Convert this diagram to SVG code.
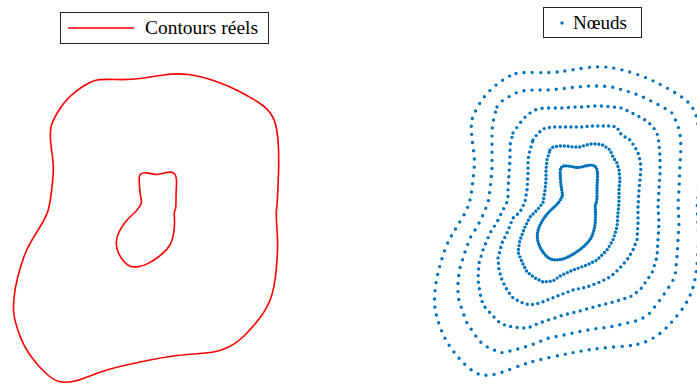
<svg xmlns="http://www.w3.org/2000/svg" xmlns:xlink="http://www.w3.org/1999/xlink" width="697" height="385" viewBox="0 0 697 385">
<style>
.legend{fill:#fff;stroke:#262626;stroke-width:1}
.lbl{font-family:"Liberation Serif","DejaVu Serif",serif;font-size:18px;fill:#000}
.red{fill:none;stroke:#ff0000;stroke-width:1.6;stroke-linejoin:round}
.dot{fill:none;stroke:#0072bd;stroke-width:3.4;stroke-linecap:round;stroke-linejoin:round}
</style>
<defs>
<path id="outer" d="M95,80.5 Q100,79 115,79.5 Q130,80 140,78.5 Q150,77 163.5,75 Q177,73 188.5,74.5 Q200,76 213.5,80.5 Q227,85 238.5,91 Q250,97 258.5,102.5 Q267,108 271,114 Q275,120 276.5,128.5 Q278,137 278.5,148.5 Q279,160 278.5,173.5 Q278,187 277.5,197 Q277,207 276.5,209.5 Q276,212 276.5,221 Q277,230 277.5,239 Q278,248 276.5,266.5 Q275,285 271.5,296 Q268,307 260.5,317 Q253,327 245,335 Q237,343 228.5,347 Q220,351 213.5,352 Q207,353 193.5,354 Q180,355 170,356.5 Q160,358 150,360 Q140,362 128.5,364.5 Q117,367 108.5,369.5 Q100,372 90,376 Q80,380 72.5,381.5 Q65,383 59,381.5 Q53,380 45,372.5 Q37,365 30,355 Q23,345 19,333.5 Q15,322 14,315 Q13,308 14,298 Q15,288 17.5,278 Q20,268 23.5,258 Q27,248 32,240 Q37,232 42,223.5 Q47,215 48.5,209 Q50,203 51,195 Q52,187 53,177 Q54,167 52.5,157 Q51,147 50.5,139.5 Q50,132 51,127 Q52,122 57.5,112.5 Q63,103 70,96.5 Q77,90 83.5,86 Q90,82 95,80.5 Z"/>
<path id="inner" d="M139.15,179.65 Q139,176 140.5,174.25 Q142,172.5 146,172.9 Q150,173.3 153.5,174.15 Q157,175 161,173.85 Q165,172.7 168.5,172.2 Q172,171.7 174,173.35 Q176,175 176.35,178.5 Q176.7,182 176.35,187.5 Q176,193 176,201 Q176,209 175,210.35 Q174,211.7 174.35,216.7 Q174.7,221.7 174.35,227.5 Q174,233.3 172.35,239.15 Q170.7,245 167,249.15 Q163.3,253.3 158.3,257 Q153.3,260.7 148.3,263.35 Q143.3,266 138.3,266.65 Q133.3,267.3 130,266.15 Q126.7,265 123.35,260.85 Q120,256.7 118,251.7 Q116,246.7 116.35,241.7 Q116.7,236.7 119.2,231.7 Q121.7,226.7 125,222.5 Q128.3,218.3 132.15,215 Q136,211.7 138.35,208.35 Q140.7,205 141.2,203.35 Q141.7,201.7 140.85,197.5 Q140,193.3 139.65,188.3 Q139.3,183.3 139.15,179.65 Z"/>
</defs>

<g id="real-contours">
<use xlink:href="#outer" class="red"/>
<use xlink:href="#inner" class="red"/>
</g>

<g id="legend-left">
<rect class="legend" x="60.5" y="12.5" width="208" height="31"/>
<line x1="68" y1="28" x2="134" y2="28" stroke="#ff0000" stroke-width="1.6"/>
<text class="lbl" x="145" y="33.5" textLength="113" lengthAdjust="spacingAndGlyphs">Contours réels</text>
</g>

<g id="nodes">
<g transform="translate(421,-7)">
<use xlink:href="#outer" class="dot" stroke-dasharray="0 8.2"/>
<use xlink:href="#inner" class="dot" stroke-dasharray="0 2.7"/>
</g>
<path class="dot" stroke-dasharray="0 8.1" d="M497,107 L503,100 L512,95 L520,91 L533,90 L547,90 L560,89 L577,87 L590,86 L602,86 L612,87 L623,90 L633,93 L643,97 L653,102 L663,107 L672,113 L677,123 L680,133 L681,147 L680,165 L679,190 L678,203 L679,223 L678,240 L677,257 L675,277 L667,290 L660,300 L650,313 L640,320 L627,323 L610,327 L593,329 L577,332 L560,336 L553,337 L545,339 L537,343 L528,346 L518,349 L510,351 L500,353 L492,349 L483,345 L475,335 L467,323 L462,310 L458,297 L458,280 L460,268 L465,252 L470,238 L477,227 L483,215 L488,203 L490,190 L492,170 L492,150 L492,130 L494,117 Z"/>
<path class="dot" stroke-dasharray="0 6.6" d="M513,133 L520,123 L527,115 L535,110 L543,108 L553,108 L563,108 L573,107 L583,107 L593,106 L603,106 L613,107 L622,108 L630,112 L638,116 L647,121 L653,127 L657,133 L659,143 L660,157 L660,173 L659,190 L658,207 L659,223 L658,240 L657,257 L652,273 L647,280 L640,290 L630,297 L620,300 L610,303 L597,306 L580,311 L563,315 L555,318 L545,321 L537,324 L528,328 L520,328 L507,326 L500,323 L492,315 L483,305 L480,293 L478,280 L479,263 L483,250 L490,233 L497,222 L502,212 L508,200 L508,190 L509,175 L510,160 L510,145 Z"/>
<path class="dot" stroke-dasharray="0 5.4" d="M533,140 L538,133 L545,128 L553,127 L563,127 L573,127 L583,127 L590,126 L600,126 L610,126 L617,127 L620,133 L625,137 L630,140 L635,147 L638,153 L640,160 L641,167 L640,180 L639,190 L638,207 L638,223 L637,240 L633,250 L627,260 L618,270 L610,277 L600,282 L587,287 L573,290 L560,295 L550,299 L540,303 L530,305 L520,302 L512,297 L507,290 L502,280 L499,270 L498,258 L502,243 L507,233 L513,218 L520,212 L525,202 L527,190 L528,175 L528,160 L530,150 Z"/>
<path class="dot" stroke-dasharray="0 3.9" d="M550,150 L553,147 L560,146 L567,146 L573,147 L580,147 L583,146 L590,144 L597,144 L603,145 L610,150 L613,157 L617,163 L619,170 L620,180 L619,190 L619,203 L618,213 L617,227 L613,240 L607,250 L597,260 L587,265 L573,270 L560,276 L553,281 L543,282 L535,278 L527,272 L522,262 L518,252 L520,240 L525,227 L530,217 L537,210 L543,203 L545,190 L546,180 L546,170 L547,160 Z"/>
</g>

<g id="legend-right">
<rect class="legend" x="543.5" y="7.5" width="98" height="30"/>
<circle cx="562" cy="23" r="1.7" fill="#0072bd"/>
<text class="lbl" x="573" y="28.5" textLength="54" lengthAdjust="spacingAndGlyphs">Nœuds</text>
</g>
</svg>
